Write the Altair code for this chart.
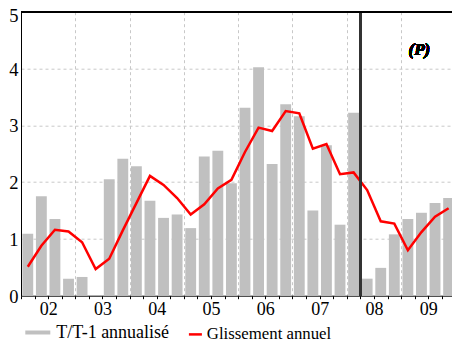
import json
import altair as alt
import pandas as pd

# ---- data ----
YEARS = ["02", "03", "04", "05", "06", "07", "08", "09"]
QUARTER_INDEX = list(range(32))  # 2002Q1 .. 2009Q4
TT1_ANNUALISE = [1.09, 1.75, 1.35, 0.30,
                 0.33, 0.00, 2.05, 2.41,
                 2.28, 1.67, 1.37, 1.43,
                 1.19, 2.45, 2.55, 1.98,
                 3.31, 4.02, 2.32, 3.37,
                 3.16, 1.50, 2.65, 1.25,
                 3.22, 0.30, 0.49, 1.08,
                 1.35, 1.46, 1.63, 1.72]
GLISSEMENT = [0.51, 0.88, 1.16, 1.13,
              0.94, 0.47, 0.65, 1.15,
              1.63, 2.11, 1.95, 1.72,
              1.43, 1.61, 1.89, 2.04,
              2.53, 2.96, 2.90, 3.25,
              3.21, 2.59, 2.67, 2.14,
              2.17, 1.86, 1.31, 1.27,
              0.80, 1.12, 1.39, 1.54]
SERIES = ["T/T-1 annualisé", "Glissement annuel"]
FORECAST_START = 25   # boundary between 2008Q1 and 2008Q2
FORECAST_LABEL = "(P)"
Y_TICKS = [0, 1, 2, 3, 4, 5]

df = pd.DataFrame({"q": QUARTER_INDEX, "tt1": TT1_ANNUALISE, "ga": GLISSEMENT})

FONT = "Liberation Serif"
GRAY = "#c0c0c0"
RED = "#ff0000"
PAD_L, PAD_T = 13, 3.7
W, H = 431, 284
CANVAS_H = 335
NQ = len(QUARTER_INDEX)
X_MAX = 31.75
q_px = W / X_MAX
half_year_px = q_px * 2

xscale = alt.Scale(domain=[0, X_MAX], nice=False, zero=False, padding=0)
yscale = alt.Scale(domain=[0, 5], nice=False, padding=0)

year_expr = (f"datum.value % 4 === 0 && datum.value < {NQ} ? "
             f"{YEARS!r}[datum.value / 4] : ''")

xaxis = alt.Axis(
    values=list(range(NQ)), title=None,
    labelExpr=year_expr, labelOffset=half_year_px, labelFlush=False,
    labelOverlap=False, labelBound=False,
    labelFont=FONT, labelFontSize=18, labelColor="black", labelPadding=2,
    ticks=True, tickSize=3, tickColor="black", tickWidth=1,
    domainColor="black", domainWidth=1,
    grid=True, gridColor="#c8c8c8", gridDash=[3, 3], gridWidth=1,
    gridOpacity={"condition": {"test": f"datum.value % 4 === 0 && datum.value > 0",
                               "value": 1}, "value": 0},
)
yaxis = alt.Axis(
    values=Y_TICKS, title=None,
    labelFont=FONT, labelFontSize=18.5, labelColor="black", labelPadding=3,
    labelFlush=False, labelBound=False,
    labelOffset={"condition": {"test": "datum.value == 5", "value": 4}, "value": 0.5},
    ticks=False, domainColor="black", domainWidth=1,
    grid=True, gridColor="#c8c8c8", gridDash=[3, 3], gridWidth=1,
    gridOpacity={"condition": {"test": "datum.value > 0 && datum.value < 5", "value": 1}, "value": 0},
)

base = alt.Chart(df)

bars = base.transform_calculate(
    x0="datum.q + 0.1", x1="datum.q + 0.9", z="0", s1=json.dumps(SERIES[0])
).mark_bar(strokeWidth=0).encode(
    x=alt.X("x0:Q", scale=xscale, axis=xaxis),
    x2="x1:Q",
    y=alt.Y("tt1:Q", scale=yscale, axis=yaxis),
    y2="z:Q",
    fill=alt.Fill(
        "s1:N",
        scale=alt.Scale(domain=[SERIES[0]], range=[GRAY]),
        legend=alt.Legend(
            title=None, orient="none", legendX=4.3, legendY=308.3, padding=0,
            symbolType="M-1,-0.16H1V0.16H-1Z", symbolSize=625,
            symbolStrokeWidth=0, labelOffset=6,
            labelFont=FONT, labelFontSize=18, labelColor="black",
        ),
    ),
)

line = base.transform_calculate(xc="datum.q + 0.5", s2=json.dumps(SERIES[1])).mark_line(
    strokeWidth=2.5, strokeJoin="miter"
).encode(
    x=alt.X("xc:Q", scale=xscale, axis=xaxis),
    y=alt.Y("ga:Q", scale=yscale, axis=yaxis),
    stroke=alt.Stroke(
        "s2:N",
        scale=alt.Scale(domain=[SERIES[1]], range=[RED]),
        legend=alt.Legend(
            title=None, orient="none", legendX=166, legendY=314.3, padding=0,
            symbolType="stroke", symbolSize=169, symbolStrokeWidth=2.5,
            labelOffset=3,
            labelFont=FONT, labelFontSize=16.8, labelColor="black",
        ),
    ),
)

forecast_rule = alt.Chart(df).mark_rule(color="#333333", strokeWidth=1.5).encode(
    x=alt.X(datum=FORECAST_START, scale=xscale, axis=xaxis)
)

top_border = alt.Chart(df).mark_rule(color="black", strokeWidth=1).encode(
    y=alt.Y(datum=5, scale=yscale, axis=yaxis)
)

p_label = alt.Chart(df).mark_text(
    font=FONT, fontSize=17, fontStyle="italic", fontWeight="bold",
    color="black", align="center", baseline="middle"
).encode(
    x=alt.X(datum=29.35, scale=xscale, axis=xaxis),
    y=alt.Y(datum=4.32, scale=yscale, axis=yaxis),
    text=alt.value(FORECAST_LABEL),
)

chart = alt.layer(bars, line, forecast_rule, top_border, p_label).properties(
    width=W, height=H,
    autosize=alt.AutoSizeParams(type="none"),
    padding={"left": PAD_L, "top": PAD_T, "right": 0,
             "bottom": CANVAS_H - PAD_T - H},
).configure_view(strokeWidth=0)

chart.save("out.html", embed_options={"renderer": "svg", "actions": False})
